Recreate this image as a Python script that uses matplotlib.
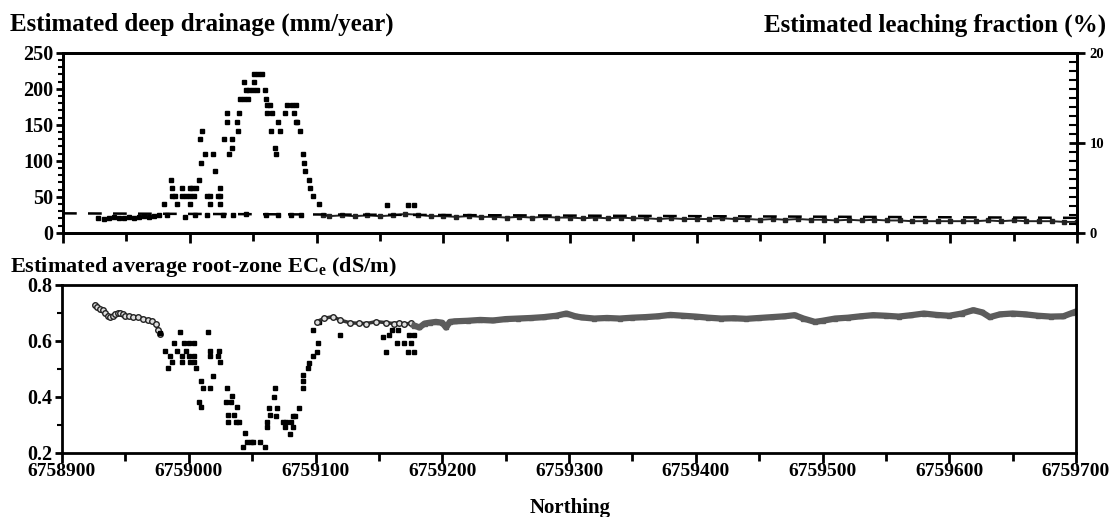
import matplotlib
matplotlib.use("Agg")
import matplotlib.pyplot as plt
from matplotlib.ticker import MultipleLocator, FuncFormatter

# ---- data ----
# deep drainage (mm/year), scattered points in the western part
drain_n = [
    6758928, 6758932, 6758936, 6758940, 6758944, 6758948, 6758952, 6758956,
    6758960, 6758964, 6758968, 6758972, 6758976, 6758982, 6758996, 6759004,
    6759014, 6759026, 6759034, 6759044, 6759060, 6759070, 6759080, 6759088,
    6759051, 6759054, 6759057,
    6759043, 6759051,
    6759044, 6759047, 6759050, 6759053, 6759059,
    6759040, 6759043, 6759046, 6759060,
    6759061, 6759063, 6759077, 6759081, 6759084,
    6759029, 6759039, 6759061, 6759065, 6759075, 6759082,
    6759029, 6759037, 6759070, 6759084, 6759085,
    6759010, 6759038, 6759064, 6759071, 6759087,
    6759008, 6759027, 6759033,
    6759033, 6759067,
    6759012, 6759018, 6759031, 6759068, 6759089,
    6759009, 6759090,
    6759020, 6759091,
    6758985, 6759007, 6759094,
    6758986, 6758994, 6759000, 6759002, 6759005, 6759024, 6759095,
    6758986, 6758988, 6758994, 6758997, 6759000, 6759003, 6759014, 6759016,
    6759022, 6759024, 6759097,
    6758980, 6758990, 6759000, 6759016, 6759024, 6759102,
    6759156, 6759172, 6759177,
]
drain_mm = [
    20, 19, 21, 22, 20, 21, 22, 21,
    22, 23, 22, 23, 24, 24, 22, 25,
    24, 25, 24, 26, 25, 24, 25, 24,
    220, 220, 220,
    209, 209,
    198, 198, 198, 198, 198,
    186, 186, 186, 186,
    177, 177, 177, 177, 177,
    166, 166, 166, 166, 166, 166,
    154, 154, 154, 154, 154,
    141, 141, 141, 141, 141,
    130, 130, 130,
    118, 118,
    109, 109, 109, 109, 109,
    97, 97,
    86, 86,
    73, 73, 73,
    62, 62, 62, 62, 62, 62, 62,
    51, 51, 51, 51, 51, 51, 51, 51,
    51, 51, 51,
    40, 40, 40, 40, 40, 40,
    38, 38, 38,
]
# deep drainage, continuous eastern part
drain_line_n = [
    6759105, 6759110, 6759120, 6759130, 6759140, 6759150, 6759160, 6759170,
    6759180, 6759190, 6759200, 6759210, 6759220, 6759230, 6759240, 6759250,
    6759260, 6759270, 6759280, 6759290, 6759300, 6759310, 6759320, 6759330,
    6759340, 6759350, 6759360, 6759370, 6759380, 6759390, 6759400, 6759410,
    6759420, 6759430, 6759440, 6759450, 6759460, 6759470, 6759480, 6759490,
    6759500, 6759510, 6759520, 6759530, 6759540, 6759550, 6759560, 6759570,
    6759580, 6759590, 6759600, 6759610, 6759620, 6759630, 6759640, 6759650,
    6759660, 6759670, 6759680, 6759690, 6759700,
]
drain_line_mm = [
    24, 23, 24, 23, 24, 23, 24, 26,
    25, 23, 23, 22, 23, 22, 22, 21,
    22, 21, 22, 21, 21, 20, 21, 20,
    21, 20, 20, 19, 20, 19, 19, 19,
    20, 19, 19, 18, 19, 18, 19, 18,
    18, 17, 18, 17, 18, 17, 17, 16,
    16, 16, 16, 16, 16, 17, 16, 17,
    16, 16, 16, 15, 15,
]
# leaching fraction (%), dashed
leach_n = [6758900, 6759700]
leach_pct = [2.15, 1.65]

# root-zone ECe (dS/m)
ec_smooth_n = [
    6758926, 6758928, 6758930, 6758932, 6758934, 6758936, 6758938, 6758940,
    6758942, 6758944, 6758946, 6758948, 6758950, 6758953, 6758956, 6758960,
    6758964, 6758968, 6758971, 6758974, 6758976, 6758977,
]
ec_smooth = [
    0.73, 0.72, 0.715, 0.71, 0.70, 0.69, 0.685, 0.69,
    0.695, 0.70, 0.70, 0.695, 0.69, 0.69, 0.685, 0.685,
    0.68, 0.675, 0.67, 0.66, 0.64, 0.625,
]
ec_scatter_n = [
    6758977, 6758988, 6758981, 6758985, 6758987, 6758984,
    6758993, 6758996, 6759000, 6759004, 6758991, 6758998,
    6758995, 6759000, 6759004, 6758995, 6759001, 6759004, 6759006,
    6759015, 6759017, 6759024, 6759017, 6759023, 6759025,
    6759019, 6759010, 6759011, 6759017, 6759008, 6759010,
    6759030, 6759034, 6759029, 6759033, 6759038, 6759031, 6759036,
    6759031, 6759037, 6759040, 6759044, 6759046, 6759049, 6759051,
    6759056, 6759043, 6759060,
    6759062, 6759062, 6759064, 6759063, 6759070, 6759067, 6759068,
    6759069, 6759074, 6759077, 6759076, 6759082, 6759081, 6759080,
    6759082, 6759084, 6759087, 6759090, 6759090, 6759090, 6759094,
    6759095, 6759098, 6759101, 6759102, 6759098, 6759103,
    6759119, 6759153, 6759156, 6759160, 6759165, 6759164, 6759170,
    6759175, 6759173, 6759178, 6759178, 6759158, 6759174,
]
ec_scatter = [
    0.627, 0.594, 0.565, 0.546, 0.526, 0.502,
    0.633, 0.594, 0.594, 0.594, 0.565, 0.565,
    0.546, 0.546, 0.546, 0.526, 0.526, 0.526, 0.502,
    0.633, 0.565, 0.565, 0.546, 0.546, 0.526,
    0.474, 0.458, 0.430, 0.430, 0.382, 0.362,
    0.430, 0.403, 0.382, 0.382, 0.362, 0.335, 0.335,
    0.311, 0.311, 0.311, 0.269, 0.239, 0.239, 0.239,
    0.239, 0.221, 0.221,
    0.311, 0.291, 0.335, 0.359, 0.359, 0.398, 0.430,
    0.331, 0.311, 0.311, 0.291, 0.291, 0.311, 0.267,
    0.331, 0.331, 0.359, 0.430, 0.456, 0.478, 0.502,
    0.520, 0.546, 0.561, 0.594, 0.639, 0.669,
    0.621, 0.615, 0.562, 0.640, 0.640, 0.591, 0.591,
    0.591, 0.562, 0.562, 0.621, 0.621, 0.621,
]
ec_plateau_n = [
    6759101, 6759107, 6759114, 6759119, 6759127, 6759134, 6759140, 6759148,
    6759156, 6759162, 6759166, 6759170, 6759175,
]
ec_plateau = [
    0.669, 0.681, 0.687, 0.675, 0.665, 0.663, 0.662, 0.669,
    0.665, 0.662, 0.665, 0.66, 0.663,
]
ec_line_n = [
    6759178, 6759182, 6759186, 6759190, 6759195, 6759200, 6759203, 6759206,
    6759210, 6759220, 6759230, 6759240, 6759250, 6759260, 6759270, 6759280,
    6759290, 6759298, 6759305, 6759310, 6759320, 6759330, 6759340, 6759350,
    6759360, 6759370, 6759380, 6759390, 6759400, 6759410, 6759420, 6759430,
    6759440, 6759450, 6759460, 6759470, 6759478, 6759485, 6759494, 6759500,
    6759510, 6759520, 6759530, 6759540, 6759550, 6759560, 6759570, 6759580,
    6759590, 6759600, 6759610, 6759619, 6759626, 6759632, 6759640, 6759650,
    6759660, 6759670, 6759680, 6759690, 6759697, 6759700,
]
ec_line = [
    0.655, 0.648, 0.662, 0.665, 0.668, 0.665, 0.648, 0.668,
    0.670, 0.672, 0.675, 0.673, 0.678, 0.680, 0.682, 0.685,
    0.690, 0.698, 0.688, 0.684, 0.680, 0.682, 0.680, 0.683,
    0.685, 0.688, 0.693, 0.690, 0.687, 0.683, 0.680, 0.681,
    0.679, 0.682, 0.685, 0.688, 0.692, 0.680, 0.668, 0.672,
    0.680, 0.683, 0.688, 0.692, 0.690, 0.687, 0.692, 0.698,
    0.693, 0.690, 0.698, 0.710, 0.702, 0.685, 0.695, 0.698,
    0.695, 0.690, 0.687, 0.688, 0.700, 0.705,
]

serif = "Liberation Serif"
plt.rcParams["font.family"] = serif
plt.rcParams["font.weight"] = "bold"
plt.rcParams["mathtext.fontset"] = "custom"
plt.rcParams["mathtext.rm"] = "Liberation Serif:bold"
plt.rcParams["mathtext.it"] = "Liberation Serif:bold"
plt.rcParams["mathtext.bf"] = "Liberation Serif:bold"

W, H = 1115, 517
fig = plt.figure(figsize=(W / 100, H / 100), dpi=100)


def box(x0, y0, x1, y1):
    return [x0 / W, 1 - y1 / H, (x1 - x0) / W, (y1 - y0) / H]


ax1 = fig.add_axes(box(63, 52.7, 1077, 232.7))
ax2 = fig.add_axes(box(62, 285, 1076, 452.7))

for ax in (ax1, ax2):
    for s in ax.spines.values():
        s.set_linewidth(2)
    ax.set_xlim(6758900, 6759700)
    ax.xaxis.set_major_locator(MultipleLocator(100))
    ax.xaxis.set_minor_locator(MultipleLocator(50))
    ax.tick_params(axis="x", which="major", direction="out", length=7.5, width=2)
    ax.tick_params(axis="x", which="minor", direction="out", length=6, width=2)
    ax.tick_params(axis="y", which="major", direction="out", length=5, width=2,
                   labelsize=14.5, pad=2)
    ax.tick_params(axis="y", which="minor", direction="out", length=3.5, width=1.5)

# top panel
ax1.set_ylim(0, 250)
ax1.yaxis.set_major_locator(MultipleLocator(50))
ax1.yaxis.set_minor_locator(MultipleLocator(10))
ax1.tick_params(axis="x", labelbottom=False)
ax1.plot(drain_n, drain_mm, ls="none", marker="s", ms=2.6, color="black")
ax1.plot(drain_line_n, drain_line_mm, color="#222222", lw=1.4,
         marker="s", ms=2.6)

axr = ax1.twinx()
axr.set_ylim(0, 20)
axr.yaxis.set_major_locator(MultipleLocator(10))
axr.yaxis.set_minor_locator(MultipleLocator(1))
axr.tick_params(axis="y", which="major", direction="inout", length=12, width=2,
                labelsize=10.5, pad=3)
axr.tick_params(axis="y", which="minor", direction="in", length=6, width=1.5)
for s in axr.spines.values():
    s.set_linewidth(2)
axr.plot(leach_n, leach_pct, color="black", lw=1.8, ls=(0, (5.5, 4.5)))

# bottom panel
ax2.set_ylim(0.2, 0.8)
ax2.yaxis.set_major_locator(MultipleLocator(0.2))
ax2.yaxis.set_minor_locator(MultipleLocator(0.1))
ax2.yaxis.set_major_formatter(FuncFormatter(lambda v, p: f"{v:.1f}"))
ax2.xaxis.set_major_formatter(FuncFormatter(lambda v, p: f"{int(round(v))}"))
ax2.tick_params(axis="x", labelsize=14, pad=0)
ax2.plot(ec_smooth_n, ec_smooth, color="#333333", lw=2.5, marker="o", ms=4,
         mfc="#dddddd", mec="#222222", mew=1)
ax2.plot(ec_scatter_n, ec_scatter, ls="none", marker="s", ms=2.8, color="black")
ax2.plot(ec_plateau_n, ec_plateau, color="#333333", lw=2.5, marker="o", ms=4,
         mfc="#dddddd", mec="#222222", mew=1)
ax2.plot(ec_line_n, ec_line, color="#5c5c5c", lw=4.5, marker="s", ms=3.4,
         solid_joinstyle="round")

# headings
fig.text(10 / W, 1 - 31 / H, "Estimated deep drainage (mm/year)",
         fontsize=18, fontweight="bold", va="baseline", ha="left")
fig.text(1106 / W, 1 - 32 / H, "Estimated leaching fraction (%)",
         fontsize=18, fontweight="bold", va="baseline", ha="right")
fig.text(10 / W, 1 - 272 / H, r"Estimated average root-zone EC$_\mathrm{e}$ (dS/m)",
         fontsize=16, fontweight="bold", va="baseline", ha="left")
fig.text(570 / W, 1 - 513 / H, "Northing", fontsize=15, fontweight="bold",
         va="baseline", ha="center")

fig.savefig("out.png", dpi=100)
